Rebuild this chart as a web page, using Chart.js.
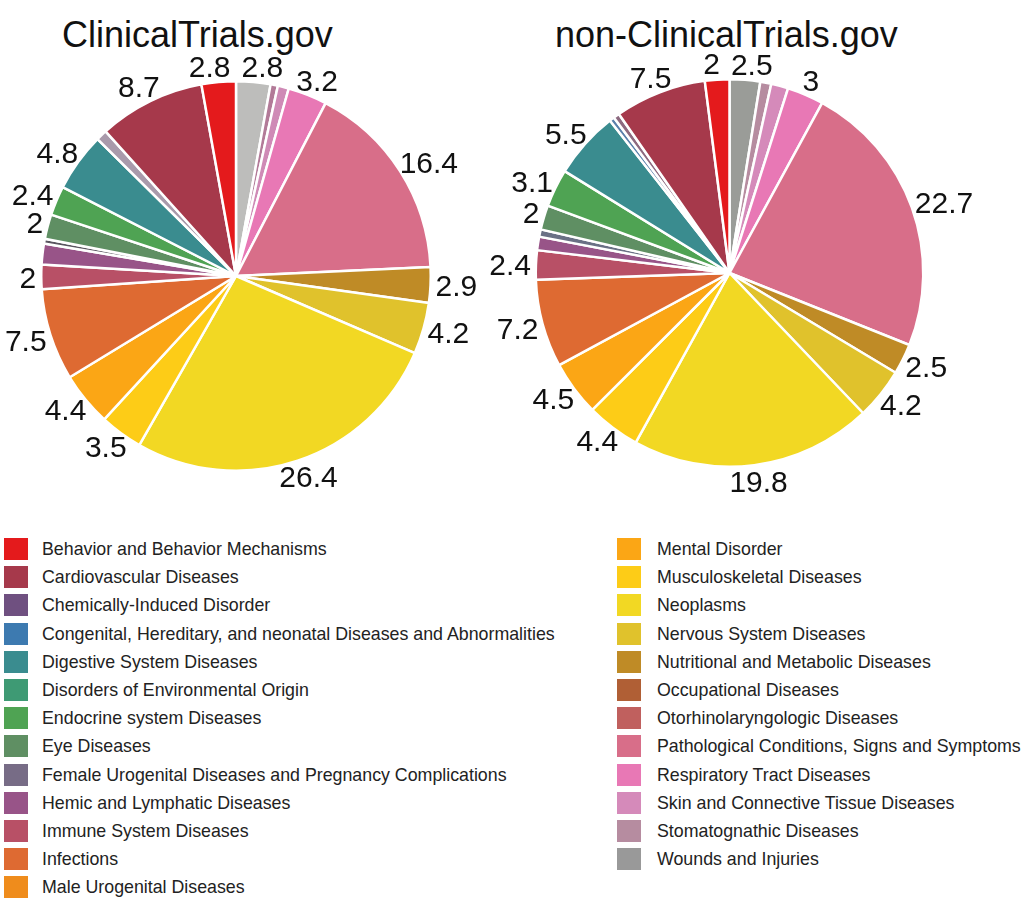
<!DOCTYPE html>
<html>
<head>
<meta charset="utf-8">
<script src="https://cdn.jsdelivr.net/npm/chart.js@4.4.1/dist/chart.umd.min.js"></script>
<style>
  body { margin: 0; background: #fff; font-family: "Liberation Sans", Arial, sans-serif; }
  #page { position: relative; width: 1024px; height: 906px; overflow: hidden; }
  .title { position: absolute; top: 14px; font-size: 36px; color: #111; white-space: nowrap; }
  canvas { position: absolute; top: 0; }
  .item { position: absolute; font-size: 17.8px; color: #222; white-space: nowrap; height: 22px; line-height: 22px; }
  .item span.box { position: absolute; left: 0; top: 0; width: 24px; height: 22px; }
  .item span.txt { position: absolute; left: 38px; top: 0; }
</style>
</head>
<body>
<div id="page">
  <div class="title" style="left:62px">ClinicalTrials.gov</div>
  <div class="title" style="left:555px">non-ClinicalTrials.gov</div>
  <canvas id="pie1" width="512" height="520" style="left:0;width:512px;height:520px"></canvas>
  <canvas id="pie2" width="554" height="520" style="left:470px;width:554px;height:520px"></canvas>
  <div id="legend"></div>
</div>
<script>
const categories = [
  "Behavior and Behavior Mechanisms",
  "Cardiovascular Diseases",
  "Chemically-Induced Disorder",
  "Congenital, Hereditary, and neonatal Diseases and Abnormalities",
  "Digestive System Diseases",
  "Disorders of Environmental Origin",
  "Endocrine system Diseases",
  "Eye Diseases",
  "Female Urogenital Diseases and Pregnancy Complications",
  "Hemic and Lymphatic Diseases",
  "Immune System Diseases",
  "Infections",
  "Male Urogenital Diseases",
  "Mental Disorder",
  "Musculoskeletal Diseases",
  "Neoplasms",
  "Nervous System Diseases",
  "Nutritional and Metabolic Diseases",
  "Occupational Diseases",
  "Otorhinolaryngologic Diseases",
  "Pathological Conditions, Signs and Symptoms",
  "Respiratory Tract Diseases",
  "Skin and Connective Tissue Diseases",
  "Stomatognathic Diseases",
  "Wounds and Injuries"
];

// percentages, same order as categories
const ctgovValues = [2.8, 8.7, 0.9, 0, 4.8, 0, 2.4, 2, 0.4, 1.7, 2, 7.5, 0,
  4.4, 3.5, 26.4, 4.2, 2.9, 0, 0, 16.4, 3.2, 0.9, 0.6, 2.8];
const nonCtgovValues = [2, 7.5, 0.5, 0.4, 5.5, 0, 3.1, 2, 0.6, 1.1, 2.4, 7.2, 0,
  4.5, 4.4, 19.8, 4.2, 2.5, 0, 0, 22.7, 3, 1.4, 0.9, 2.5];

const legendColors = [
  "#e41a1c", "#a6394b", "#6f5080", "#3d7ab0", "#3a8c8f", "#3e9a74", "#4fa353",
  "#5f8f63", "#776c86", "#985488", "#b85066", "#de6a32", "#ef8c1c", "#fba615",
  "#fdcc17", "#f2d823", "#e0c22c", "#bf8b26", "#b05f35", "#c0605e", "#d86e89",
  "#e878b5", "#d58aba", "#b68ca0", "#999999"
];
// the slices are drawn a touch differently from the legend keys in a few places
const pie1Colors = legendColors.slice();
pie1Colors[2] = "#a99aab";
pie1Colors[8] = "#5a5560";
pie1Colors[22] = "#cf8ab6";
pie1Colors[23] = "#b27a98";
pie1Colors[24] = "#bdbdbb";
const pie2Colors = legendColors.slice();
pie2Colors[2] = "#8d6a80";
pie2Colors[3] = "#5a80ab";
pie2Colors[8] = "#6a7085";
pie2Colors[24] = "#9a9c98";

const outsideLabels = {
  id: "outsideLabels",
  afterDatasetsDraw(chart) {
    const ctx = chart.ctx;
    const meta = chart.getDatasetMeta(0);
    const values = chart.data.datasets[0].data;
    ctx.save();
    ctx.font = '30px "Liberation Sans", Arial, sans-serif';
    ctx.fillStyle = "#111";
    ctx.textAlign = "center";
    ctx.textBaseline = "alphabetic";
    const boxes = [];
    meta.data.forEach((arc, i) => {
      const v = values[i];
      if (v < 2) return;
      const p = arc.getProps(["x", "y", "startAngle", "endAngle", "outerRadius"], true);
      const mid = (p.startAngle + p.endAngle) / 2;
      const dx = Math.cos(mid), dy = Math.sin(mid);
      const text = String(v);
      const hw = ctx.measureText(text).width / 2;
      const hh = 11;
      boxes.push({
        text: text, hw: hw,
        x: p.x + (p.outerRadius + 5) * dx + hw * dx,
        y: p.y + (p.outerRadius + 5) * dy + hh * dy
      });
    });
    // nudge neighbours apart when they sit side by side (last wraps to first at the top)
    const n = boxes.length;
    for (let k = 0; k < n; k++) {
      const a = boxes[k], b = boxes[(k + 1) % n];
      if (Math.abs(a.y - b.y) > 22) continue;
      const left = a.x < b.x ? a : b, right = a.x < b.x ? b : a;
      const gap = (right.x - right.hw) - (left.x + left.hw);
      if (gap < 11) {
        const push = (11 - gap) / 2;
        left.x -= push;
        right.x += push;
      }
    }
    boxes.forEach(b => ctx.fillText(b.text, b.x, b.y + 10.7));
    ctx.restore();
  }
};

// slices run counter-clockwise in alphabetical order, so feed them reversed
function makePie(id, values, colors, padding) {
  new Chart(document.getElementById(id), {
    type: "pie",
    data: {
      labels: categories.slice().reverse(),
      datasets: [{
        data: values.slice().reverse(),
        backgroundColor: colors.slice().reverse(),
        borderColor: "#ffffff",
        borderWidth: 2.5
      }]
    },
    options: {
      responsive: false,
      animation: false,
      layout: { padding: padding },
      plugins: {
        legend: { display: false },
        tooltip: { enabled: false }
      }
    },
    plugins: [outsideLabels]
  });
}

makePie("pie1", ctgovValues, pie1Colors, { left: 40, right: 80, top: 80, bottom: 48 });
makePie("pie2", nonCtgovValues, pie2Colors, { left: 63, right: 98, top: 78, bottom: 52 });

// two-column legend, filled column by column
const legend = document.getElementById("legend");
categories.forEach((name, i) => {
  const col = i < 13 ? 0 : 1;
  const row = i % 13;
  const item = document.createElement("div");
  item.className = "item";
  item.style.left = (col === 0 ? 4 : 617) + "px";
  item.style.top = (538 + row * 28.2) + "px";
  item.innerHTML = '<span class="box" style="background:' + legendColors[i] + '"></span>' +
    '<span class="txt" style="left:' + (col === 0 ? 38 : 40) + 'px">' + name + "</span>";
  legend.appendChild(item);
});
</script>
</body>
</html>
